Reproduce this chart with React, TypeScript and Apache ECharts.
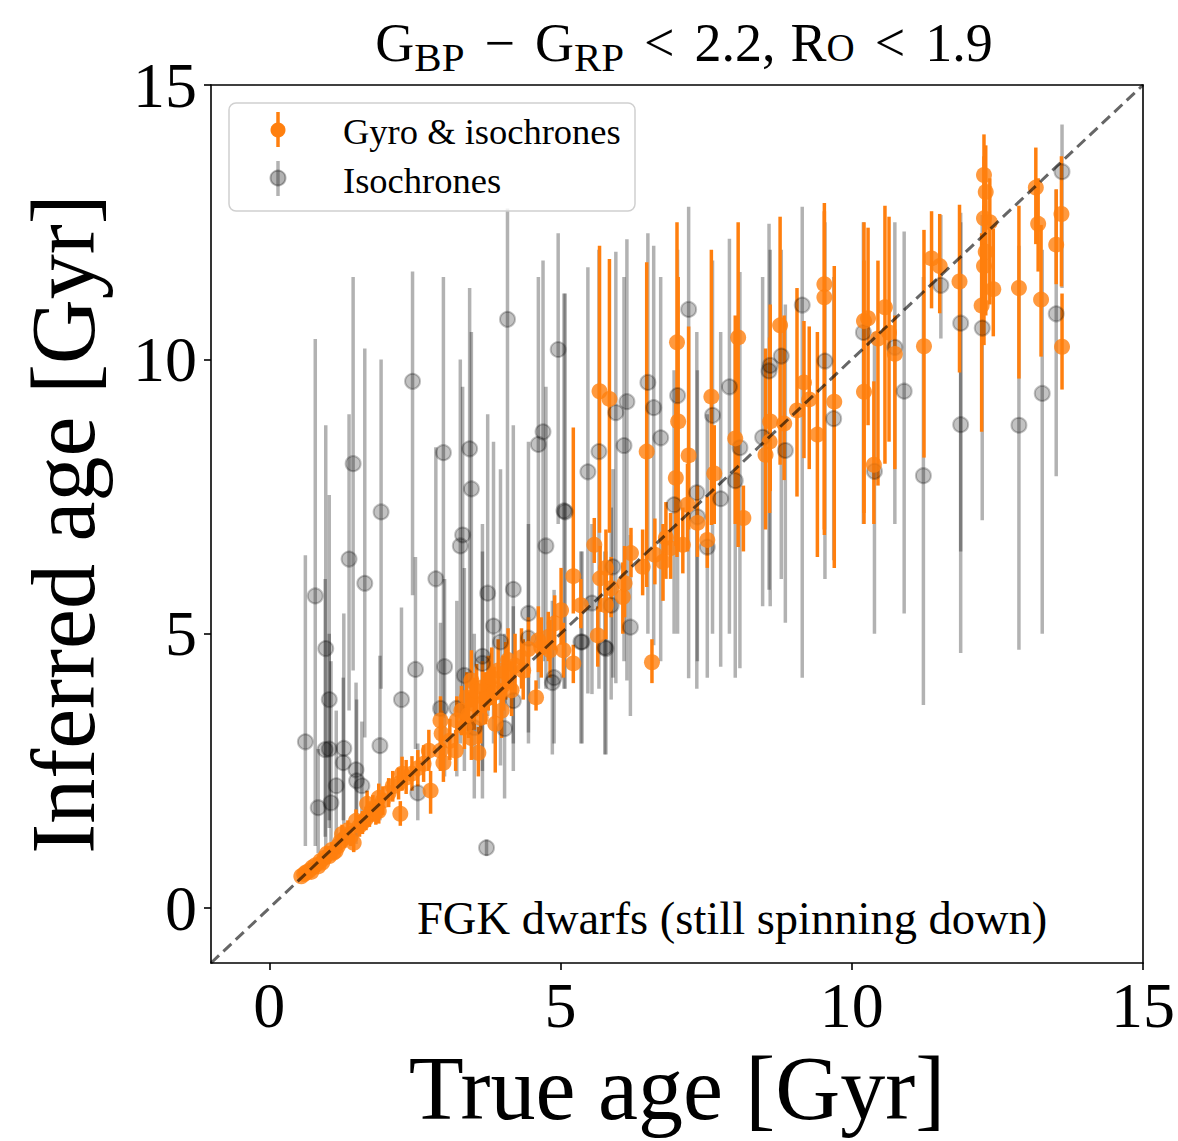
import React, { useEffect, useRef } from "react";
import * as echarts from "echarts";

const FONT = "'Liberation Serif', 'DejaVu Serif', serif";

const xTicks = [0, 5, 10, 15];
const yTicks = [0, 5, 10, 15];
const axisRange = [-1, 15];
const diagonal = [
  [-1, -1],
  [15, 15],
];

const xAxisName = "True age [Gyr]";
const yAxisName = "Inferred age [Gyr]";
const legendNames = ["Gyro & isochrones", "Isochrones"];
const annotation = "FGK dwarfs (still spinning down)";

// [true age, inferred age, lower bound, upper bound]
const gyroPoints = [
  [0.55, 0.58, 0.5, 0.66], [0.6, 0.62, 0.54, 0.7], [0.63, 0.65, 0.57, 0.73],
  [0.68, 0.68, 0.6, 0.76], [0.72, 0.66, 0.58, 0.75], [0.74, 0.74, 0.65, 0.83],
  [0.79, 0.78, 0.69, 0.88], [0.84, 0.76, 0.66, 0.86], [0.88, 0.86, 0.76, 0.97],
  [0.91, 0.83, 0.72, 0.94], [0.95, 0.92, 0.8, 1.04], [0.99, 0.99, 0.86, 1.12],
  [1.03, 0.95, 0.83, 1.08], [1.07, 1.06, 0.93, 1.2], [1.1, 1.01, 0.88, 1.14],
  [1.14, 1.04, 0.9, 1.18], [1.18, 1.13, 0.98, 1.28], [1.22, 1.21, 1.05, 1.37],
  [1.25, 1.35, 1.18, 1.52], [1.3, 1.28, 1.1, 1.45], [1.35, 1.42, 1.23, 1.6],
  [1.4, 1.31, 1.13, 1.5], [1.45, 1.19, 1.02, 1.36], [1.49, 1.59, 1.38, 1.8],
  [1.55, 1.5, 1.3, 1.7], [1.6, 1.56, 1.35, 1.77], [1.66, 1.63, 1.42, 1.85],
  [1.68, 1.9, 1.66, 2.14], [1.72, 1.7, 1.48, 1.93], [1.78, 1.82, 1.58, 2.06],
  [1.83, 1.75, 1.52, 1.98], [1.88, 1.77, 1.54, 2.0], [1.88, 2.01, 1.76, 2.27],
  [1.95, 1.96, 1.7, 2.22], [2.05, 2.1, 1.84, 2.37], [2.12, 2.22, 1.94, 2.5],
  [2.22, 2.27, 1.98, 2.56], [2.25, 1.72, 1.5, 1.95], [2.28, 2.45, 2.14, 2.76],
  [2.35, 2.38, 2.08, 2.7], [2.45, 2.45, 2.14, 2.77], [2.55, 2.55, 2.22, 2.88],
  [2.65, 2.63, 2.3, 2.97], [2.74, 2.87, 2.5, 3.25], [2.77, 2.14, 1.72, 2.5],
  [2.94, 2.87, 2.5, 3.25], [2.99, 2.65, 2.3, 3.0], [2.96, 3.18, 2.78, 3.6],
  [2.94, 3.42, 3.0, 3.86], [3.2, 2.87, 2.5, 3.25], [3.22, 3.42, 3.0, 3.86],
  [3.3, 3.6, 3.15, 4.05], [3.39, 3.84, 3.36, 4.3], [3.47, 4.15, 3.65, 4.7],
  [3.47, 3.1, 2.7, 3.5], [3.59, 2.83, 2.4, 3.3], [3.63, 3.47, 3.0, 3.95],
  [3.76, 4.1, 3.6, 4.6], [3.93, 4.33, 3.8, 4.9], [3.88, 3.36, 2.47, 3.85],
  [3.99, 3.6, 3.1, 4.1], [4.1, 4.52, 4.0, 5.1], [4.16, 3.97, 3.5, 4.5],
  [4.33, 4.57, 4.0, 5.1], [4.36, 4.33, 3.8, 4.9], [4.58, 3.84, 3.6, 4.15],
  [4.62, 4.88, 4.3, 5.5], [4.67, 4.75, 4.2, 5.3],
  [3.1, 3.05, 2.7, 3.45], [3.35, 3.3, 2.9, 3.7], [3.42, 3.52, 3.1, 3.95],
  [3.52, 3.72, 3.25, 4.2], [3.56, 3.96, 3.5, 4.45], [3.66, 4.02, 3.55, 4.5],
  [3.71, 3.8, 3.35, 4.3], [3.82, 4.2, 3.7, 4.75], [3.86, 3.92, 3.45, 4.4],
  [4.02, 4.07, 3.6, 4.6], [4.06, 4.3, 3.8, 4.85], [4.22, 4.42, 3.9, 5.0],
  [4.82, 4.7, 4.2, 5.25], [4.45, 4.72, 4.2, 5.3],
  [4.79, 4.94, 4.5, 5.4], [4.9, 5.19, 4.7, 5.7], [5.01, 5.43, 4.8, 6.2],
  [5.05, 4.7, 4.2, 5.2], [5.22, 4.46, 4.1, 4.8], [5.22, 6.05, 5.37, 8.76],
  [5.35, 5.52, 5.1, 6.0], [5.58, 6.62, 6.29, 7.11], [5.64, 4.97, 4.4, 5.5],
  [5.68, 6.01, 5.4, 6.6], [5.78, 6.2, 5.6, 6.9], [5.78, 5.52, 4.9, 6.2],
  [5.87, 5.83, 5.3, 6.4], [6.07, 5.67, 5.0, 6.3], [6.1, 5.92, 5.3, 6.6],
  [6.21, 6.47, 6.03, 6.93], [6.41, 6.22, 5.7, 6.9], [6.57, 4.48, 4.1, 4.9],
  [6.62, 6.44, 5.9, 7.1], [6.76, 6.31, 5.6, 7.0], [6.81, 6.75, 6.0, 7.4],
  [6.89, 6.56, 6.0, 7.2], [7.1, 6.62, 6.1, 7.3], [7.18, 7.35, 6.5, 8.1],
  [7.35, 7.02, 6.4, 7.7], [7.52, 6.71, 6.2, 7.5], [8.14, 7.11, 6.5, 7.7],
  [5.67, 9.42, 6.84, 12.07], [5.84, 9.28, 6.84, 11.83], [6.48, 8.32, 5.85, 11.77],
  [7.0, 10.31, 6.4, 12.5], [7.02, 8.87, 6.5, 11.5], [7.2, 8.25, 6.9, 10.6],
  [6.98, 7.84, 6.6, 9.2], [7.59, 9.32, 6.98, 12.0], [7.64, 7.92, 7.0, 8.8],
  [8.05, 10.4, 6.58, 12.5], [8.0, 8.56, 7.0, 10.8], [8.77, 10.62, 8.08, 12.6],
  [8.6, 8.87, 7.6, 11.0], [8.59, 8.5, 7.2, 10.4], [8.52, 8.26, 6.9, 10.2],
  [8.84, 8.83, 7.8, 10.8], [9.06, 9.07, 7.5, 11.3], [9.18, 9.58, 8.2, 10.7],
  [9.27, 9.27, 8.0, 10.6], [9.41, 8.63, 6.4, 10.5], [9.53, 11.37, 6.8, 12.85],
  [9.53, 11.13, 6.9, 12.7], [9.7, 9.23, 6.2, 11.7], [10.21, 10.7, 7.2, 12.5],
  [10.28, 10.75, 8.8, 12.4], [10.21, 9.41, 7.0, 11.8], [10.38, 8.08, 7.0, 9.6],
  [10.45, 10.38, 7.7, 11.8], [10.57, 10.95, 8.1, 12.8], [10.64, 10.49, 8.5, 12.6],
  [10.74, 10.1, 8.0, 10.8], [11.24, 10.24, 8.21, 12.36], [11.37, 11.84, 10.93, 12.7],
  [11.51, 11.7, 10.84, 12.65], [11.85, 11.42, 9.76, 12.82], [12.23, 10.98, 8.68, 12.3],
  [12.27, 13.36, 12.5, 14.1], [12.3, 13.05, 12.1, 13.9], [12.27, 12.57, 11.4, 13.7],
  [12.37, 12.5, 11.0, 13.3], [12.3, 11.96, 10.8, 12.9], [12.27, 11.7, 10.26, 12.8],
  [12.43, 11.28, 10.42, 12.38], [12.87, 11.3, 9.65, 12.8], [13.16, 13.13, 12.1, 13.86],
  [13.2, 12.47, 11.6, 13.3], [13.25, 11.09, 10.05, 12.45], [13.51, 12.09, 11.37, 13.1],
  [13.6, 12.65, 11.33, 13.7], [13.61, 10.23, 9.45, 11.2],
];

const isoPoints = [
  [0.62, 3.03, 1.13, 6.43], [0.79, 5.69, 1.13, 10.37], [0.84, 1.83, 1.0, 2.9],
  [0.97, 4.73, 0.9, 8.8], [1.03, 3.8, 1.46, 7.53], [1.03, 2.9, 1.6, 5.0],
  [0.96, 2.89, 1.3, 6.0], [1.06, 1.92, 1.2, 4.5], [1.28, 2.91, 1.53, 5.37],
  [1.27, 2.65, 1.6, 4.2], [1.44, 8.1, 4.33, 11.5], [1.37, 6.36, 3.6, 9.0],
  [1.49, 2.52, 1.17, 4.11], [1.5, 2.32, 1.3, 3.8], [1.59, 2.23, 1.4, 3.4],
  [1.15, 2.23, 1.1, 3.6], [1.64, 5.92, 3.11, 10.2], [1.92, 7.22, 4.0, 10.0],
  [1.9, 2.96, 1.6, 4.6], [2.27, 3.8, 2.38, 5.48], [2.46, 9.6, 5.7, 11.6],
  [2.51, 4.35, 2.9, 6.4], [2.55, 2.1, 1.6, 3.0], [2.86, 6.0, 3.5, 8.4],
  [2.99, 8.3, 3.47, 11.5], [3.01, 4.4, 2.4, 6.0], [2.94, 3.64, 2.5, 5.2],
  [3.22, 3.64, 2.4, 5.6], [3.32, 6.8, 3.5, 9.5], [3.28, 6.6, 3.0, 10.0],
  [3.44, 8.37, 4.0, 11.3], [3.47, 7.64, 4.0, 10.5], [3.35, 4.24, 2.5, 6.2],
  [3.52, 3.29, 2.0, 5.0], [3.66, 4.59, 2.0, 7.0], [3.66, 4.46, 2.5, 6.5],
  [3.73, 1.1, 0.95, 1.25], [3.75, 5.74, 3.5, 9.0], [3.85, 5.14, 3.0, 8.5],
  [3.97, 4.85, 2.6, 8.0], [4.04, 3.27, 2.0, 5.0], [4.19, 5.81, 3.0, 8.8],
  [4.19, 3.78, 2.5, 5.5], [4.45, 5.37, 3.0, 8.5], [4.45, 4.92, 3.2, 7.0],
  [4.7, 8.68, 4.5, 11.8], [4.62, 8.45, 4.0, 11.5], [4.75, 6.6, 4.0, 9.5],
  [4.89, 4.2, 3.0, 5.8], [4.86, 4.11, 2.8, 5.6], [5.06, 7.24, 4.0, 11.2],
  [5.37, 4.85, 3.0, 6.5], [5.47, 7.95, 3.91, 11.68], [5.66, 8.32, 4.0, 12.0],
  [5.76, 4.75, 2.8, 6.5], [4.09, 10.73, 5.0, 12.75], [4.96, 10.18, 7.0, 12.3],
  [5.08, 7.22, 4.0, 11.2], [5.95, 9.03, 4.1, 11.96], [6.14, 9.23, 4.15, 12.19],
  [6.09, 8.43, 4.5, 11.5], [6.5, 9.58, 5.0, 12.3], [6.6, 9.12, 4.79, 12.07],
  [6.72, 8.57, 4.5, 11.5], [7.01, 9.34, 5.0, 12.0], [7.2, 10.91, 4.19, 12.78],
  [7.61, 8.98, 5.0, 11.8], [7.75, 7.46, 4.4, 10.5], [7.34, 7.57, 4.0, 10.5],
  [8.0, 7.79, 4.2, 10.5], [7.9, 9.5, 5.0, 12.2], [8.08, 8.39, 4.37, 11.59],
  [8.58, 9.79, 5.8, 12.47], [8.6, 9.89, 5.5, 12.0], [8.79, 10.06, 6.0, 12.0],
  [8.86, 8.34, 5.2, 11.0], [9.15, 10.99, 4.2, 12.78], [9.54, 9.97, 6.0, 12.5],
  [9.69, 8.92, 6.34, 11.5], [10.2, 10.49, 7.0, 12.5], [10.39, 7.96, 5.0, 10.5],
  [10.74, 10.22, 7.0, 12.5], [10.9, 9.42, 5.37, 12.33], [11.23, 7.88, 3.7, 11.5],
  [11.53, 11.35, 10.38, 12.63], [11.87, 10.66, 6.5, 12.5], [11.87, 8.81, 4.65, 12.67],
  [12.24, 10.57, 7.07, 12.63], [12.87, 8.8, 4.71, 12.07], [13.27, 9.38, 5.0, 12.0],
  [13.51, 10.83, 7.87, 13.09], [13.61, 13.42, 11.3, 14.28],
  [5.35, 4.85, 3.0, 6.5], [5.78, 4.73, 2.8, 6.5], [6.2, 5.12, 3.5, 6.8],
  [5.54, 5.56, 3.9, 7.0], [5.87, 5.52, 3.8, 7.3], [5.9, 6.22, 4.2, 8.0],
  [6.95, 7.35, 5.0, 9.8], [7.35, 7.13, 4.5, 9.8], [7.52, 6.58, 4.2, 9.0],
  [8.47, 8.58, 5.5, 11.5],
];

const ORANGE = "#ff7f0e";
const GRAY = "rgba(0,0,0,0.3)";

function errorBarSeries(name: string, data: number[][], color: string) {
  return {
    type: "custom",
    name,
    clip: true,
    silent: true,
    data,
    encode: { x: 0, y: 1 },
    renderItem: (_params: any, api: any) => {
      const x = api.value(0);
      const p1 = api.coord([x, api.value(2)]);
      const p2 = api.coord([x, api.value(3)]);
      return {
        type: "line",
        shape: { x1: p1[0], y1: p1[1], x2: p2[0], y2: p2[1] },
        style: { stroke: color, lineWidth: 3.5 },
      };
    },
  };
}

const titleBase = { fontFamily: FONT, color: "#000", fontWeight: "normal", verticalAlign: "bottom", lineHeight: 64 };

export default function App() {
  const ref = useRef<HTMLDivElement>(null);

  useEffect(() => {
    if (!ref.current) return;
    const chart = echarts.init(ref.current, null, { renderer: "svg" });
    const axisLineStyle = { color: "#000", width: 1.6 };
    const option = {
      animation: false,
      backgroundColor: "#fff",
      title: {
        left: 679,
        top: 8,
        textAlign: "center",
        text: "{m|G}{s|BP}{o|−}{m|G}{s|RP}{o|<}{m|2.2,}{r|R}{c|O}{o|<}{m|1.9}",
        textStyle: {
          fontWeight: "normal",
          rich: {
            m: { ...titleBase, fontSize: 54, padding: [0, 0, 7, 0] },
            o: { ...titleBase, fontSize: 54, padding: [0, 20, 7, 20] },
            r: { ...titleBase, fontSize: 54, padding: [0, 0, 7, 15] },
            s: { ...titleBase, fontSize: 41, padding: [0, 0, 0, 0] },
            c: { ...titleBase, fontSize: 39, padding: [0, 0, 10, 0] },
          },
        },
      },
      grid: { left: 211, top: 85, right: 31, bottom: 178, containLabel: false },
      xAxis: [
        {
          type: "value",
          min: axisRange[0],
          max: axisRange[1],
          position: "bottom",
          axisLine: { show: true, onZero: false, lineStyle: axisLineStyle },
          axisTick: { show: true, customValues: xTicks, length: 7, lineStyle: axisLineStyle },
          axisLabel: { customValues: xTicks, fontSize: 64, fontFamily: FONT, color: "#000", margin: 10 },
          splitLine: { show: false },
          name: xAxisName,
          nameLocation: "middle",
          nameGap: 80,
          nameTextStyle: { fontSize: 90, fontFamily: FONT, color: "#000" },
        },
        {
          type: "value",
          min: axisRange[0],
          max: axisRange[1],
          position: "top",
          axisLine: { show: true, onZero: false, lineStyle: axisLineStyle },
          axisTick: { show: false },
          axisLabel: { show: false },
          splitLine: { show: false },
        },
      ],
      yAxis: [
        {
          type: "value",
          min: axisRange[0],
          max: axisRange[1],
          position: "left",
          axisLine: { show: true, onZero: false, lineStyle: axisLineStyle },
          axisTick: { show: true, customValues: yTicks, length: 7, lineStyle: axisLineStyle },
          axisLabel: { customValues: yTicks, fontSize: 64, fontFamily: FONT, color: "#000", margin: 14 },
          splitLine: { show: false },
          name: yAxisName,
          nameLocation: "middle",
          nameGap: 103,
          nameTextStyle: { fontSize: 90, fontFamily: FONT, color: "#000" },
        },
        {
          type: "value",
          min: axisRange[0],
          max: axisRange[1],
          position: "right",
          axisLine: { show: true, onZero: false, lineStyle: axisLineStyle },
          axisTick: { show: false },
          axisLabel: { show: false },
          splitLine: { show: false },
        },
      ],
      series: [
        errorBarSeries("Isochrones bars", isoPoints, GRAY),
        {
          type: "scatter",
          name: legendNames[1],
          data: isoPoints.map((p) => [p[0], p[1]]),
          symbol: "circle",
          symbolSize: 15,
          itemStyle: { color: GRAY, borderColor: GRAY, borderWidth: 2 },
          silent: true,
        },
        errorBarSeries("Gyro bars", gyroPoints, ORANGE),
        {
          type: "scatter",
          name: legendNames[0],
          data: gyroPoints.map((p) => [p[0], p[1]]),
          symbol: "circle",
          symbolSize: 16,
          itemStyle: { color: ORANGE },
          silent: true,
        },
        {
          type: "line",
          data: diagonal,
          symbol: "none",
          silent: true,
          lineStyle: { color: "rgba(0,0,0,0.6)", width: 3, type: [11, 6] },
        },
      ],
      graphic: [
        {
          type: "rect",
          z: 100,
          shape: { x: 229, y: 103, width: 406, height: 108, r: 7 },
          style: { fill: "rgba(255,255,255,0.8)", stroke: "#d0d0d0", lineWidth: 1.5 },
        },
        { type: "line", z: 101, shape: { x1: 278, y1: 112, x2: 278, y2: 147 }, style: { stroke: ORANGE, lineWidth: 3.5 } },
        { type: "circle", z: 101, shape: { cx: 278, cy: 130, r: 7.5 }, style: { fill: ORANGE } },
        {
          type: "text", z: 101, x: 343, y: 131,
          style: { text: legendNames[0], fontSize: 36.5, fontFamily: FONT, fill: "#000", verticalAlign: "middle" },
        },
        { type: "line", z: 101, shape: { x1: 278, y1: 161, x2: 278, y2: 196 }, style: { stroke: GRAY, lineWidth: 3.5 } },
        { type: "circle", z: 101, shape: { cx: 278, cy: 178, r: 7.5 }, style: { fill: GRAY, stroke: GRAY, lineWidth: 2 } },
        {
          type: "text", z: 101, x: 343, y: 180,
          style: { text: legendNames[1], fontSize: 36.5, fontFamily: FONT, fill: "#000", verticalAlign: "middle" },
        },
        {
          type: "text", z: 101, x: 417, y: 918,
          style: { text: annotation, fontSize: 46.5, fontFamily: FONT, fill: "#000", verticalAlign: "middle" },
        },
      ],
    };
    chart.setOption(option as any);
    return () => chart.dispose();
  }, []);

  return (
    <div
      ref={ref}
      style={{ position: "absolute", left: 0, top: 0, width: 1178, height: 1141, background: "#fff" }}
    />
  );
}
